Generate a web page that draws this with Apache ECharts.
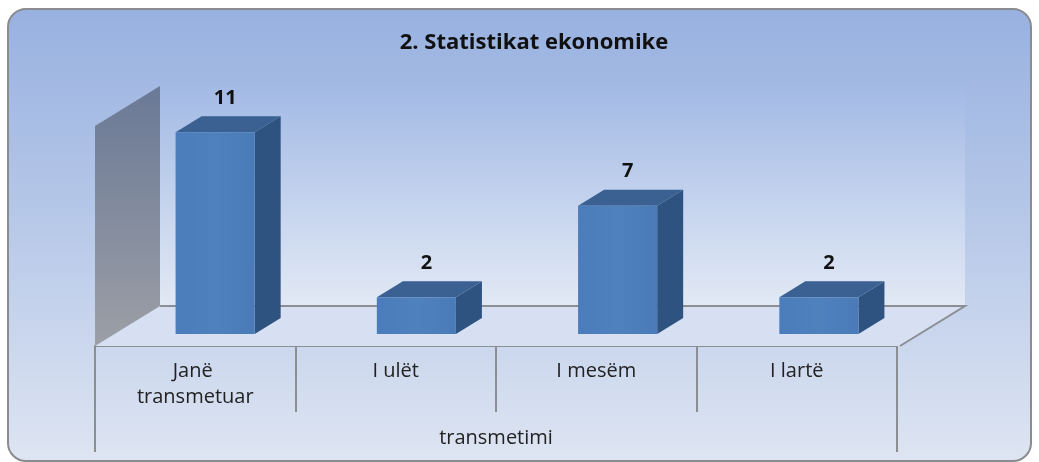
<!DOCTYPE html>
<html>
<head>
<meta charset="utf-8">
<script src="https://cdn.jsdelivr.net/npm/echarts@6/dist/echarts.min.js"></script>
<style>
html,body{margin:0;padding:0;background:#ffffff;}
#chart{width:1039px;height:462px;}
</style>
</head>
<body>
<div id="chart"></div>
<script>
// ---- data ----
const chartTitle = '2. Statistikat ekonomike';
const categories = ['Janë transmetuar', 'I ulët', 'I mesëm', 'I lartë'];
const values = [11, 2, 7, 2];
const groupLabels = ['transmetimi'];
const valueMax = 12;

// ---- style constants ----
const FONT = '"Open Sans", "Noto Sans", sans-serif';
const DX = -65, DY = 40;         // full floor depth offset (back plane -> front edge)
const FRONT = 0.7, BACK = 0.3;   // bar depth position as fraction of floor depth
const BAR_RATIO = 0.393;
const LINE = '#8b8e93';

const chart = echarts.init(document.getElementById('chart'), null, {renderer: 'canvas'});

function renderFrame(params, api) {
  const cs = params.coordSys;
  const gx = cs.x, gy = cs.y, gw = cs.width, gh = cs.height;
  return {
    type: 'group',
    children: [
      { type: 'rect', shape: {x: gx, y: gy, width: gw, height: gh},
        style: { fill: new echarts.graphic.LinearGradient(0, 0, 0, 1, [
          {offset: 0, color: '#a3bae5'}, {offset: 1, color: '#e2e9f5'}]) } },
      { type: 'polygon', shape: {points: [[gx, gy + gh], [gx + gw, gy + gh], [gx + gw + DX, gy + gh + DY], [gx + DX, gy + gh + DY]]},
        style: { fill: '#d6e0f2' } },
      { type: 'polygon', shape: {points: [[gx, gy], [gx, gy + gh], [gx + DX, gy + gh + DY], [gx + DX, gy + DY]]},
        style: { fill: new echarts.graphic.LinearGradient(0, 0, 0, 1, [
          {offset: 0, color: '#6a7996'}, {offset: 1, color: '#9c9fa6'}]) } },
      { type: 'polyline', shape: {points: [[gx, gy + gh], [gx + gw, gy + gh], [gx + gw + DX, gy + gh + DY]]},
        style: { stroke: LINE, lineWidth: 2, fill: null } }
    ]
  };
}

function renderBar(params, api) {
  const idx = api.value(0), v = api.value(1);
  const top = api.coord([idx, v]);
  const base = api.coord([idx, 0]);
  const w = api.size([1, 0])[0] * BAR_RATIO;
  const fx = top[0] + DX * FRONT, fyT = top[1] + DY * FRONT, fyB = base[1] + DY * FRONT;
  const bx = top[0] + DX * BACK, byT = top[1] + DY * BACK, byB = base[1] + DY * BACK;
  const hw = w / 2;
  return {
    type: 'group',
    children: [
      { type: 'polygon', shape: {points: [[fx + hw, fyT], [bx + hw, byT], [bx + hw, byB], [fx + hw, fyB]]},
        style: { fill: '#2f5381' } },
      { type: 'polygon', shape: {points: [[fx - hw, fyT], [fx + hw, fyT], [bx + hw, byT], [bx - hw, byT]]},
        style: { fill: '#3a6192' } },
      { type: 'rect', shape: {x: fx - hw, y: fyT, width: w, height: fyB - fyT},
        style: { fill: new echarts.graphic.LinearGradient(0, 0, 1, 0, [
          {offset: 0, color: '#4b7cbb'}, {offset: 0.5, color: '#4f81bd'}, {offset: 1, color: '#4a7bb8'}]) } },
      { type: 'text',
        style: { text: String(v), x: (fx + bx) / 2 - 3, y: byT - 18, fill: '#111111',
          fontFamily: FONT, fontSize: 20, fontWeight: 'bold', align: 'center', verticalAlign: 'middle' } }
    ]
  };
}

const option = {
  animation: false,
  title: {
    text: chartTitle, left: 529, top: 27, textAlign: 'center',
    textStyle: { fontFamily: FONT, fontSize: 22, fontWeight: 'bold', color: '#111111' }
  },
  graphic: [{
    type: 'rect', z: -10, silent: true,
    shape: { x: 8, y: 9, width: 1023, height: 452, r: 18 },
    style: {
      fill: new echarts.graphic.LinearGradient(0, 0, 0, 1, [
        {offset: 0, color: '#98b1e0'}, {offset: 0.5, color: '#b9cae9'}, {offset: 1, color: '#dee5f2'}]),
      stroke: '#8a8c90', lineWidth: 2
    }
  }],
  grid: [
    { left: 160, right: 74, top: 86, bottom: 156 },
    { left: 95, right: 142, top: 126, bottom: 116 }
  ],
  xAxis: [
    { type: 'category', gridIndex: 0, data: categories, show: false },
    { type: 'category', gridIndex: 1, data: categories, position: 'bottom',
      axisLine: { show: true, lineStyle: { color: LINE, width: 2 } },
      axisTick: { show: true, interval: 0, length: 66, lineStyle: { color: LINE, width: 2 } },
      axisLabel: { fontFamily: FONT, fontSize: 20, color: '#222222', margin: 12, lineHeight: 26,
        width: 150, overflow: 'break', interval: 0 } },
    { type: 'category', gridIndex: 1, data: groupLabels, position: 'bottom', offset: 0,
      axisLine: { show: true, lineStyle: { color: LINE, width: 2 } },
      axisTick: { show: true, interval: 0, length: 106, lineStyle: { color: LINE, width: 2 } },
      axisLabel: { fontFamily: FONT, fontSize: 20, color: '#222222', margin: 82 } }
  ],
  yAxis: [
    { type: 'value', gridIndex: 0, min: 0, max: valueMax, show: false },
    { type: 'value', gridIndex: 1, min: 0, max: 1, show: false }
  ],
  series: [
    { type: 'custom', name: 'frame', xAxisIndex: 0, yAxisIndex: 0, z: 1, silent: true,
      data: [[0, 0]], renderItem: renderFrame },
    { type: 'custom', name: 'transmetimi', xAxisIndex: 0, yAxisIndex: 0, z: 3,
      data: values.map((v, i) => [i, v]), renderItem: renderBar }
  ]
};
chart.setOption(option);
</script>
</body>
</html>
